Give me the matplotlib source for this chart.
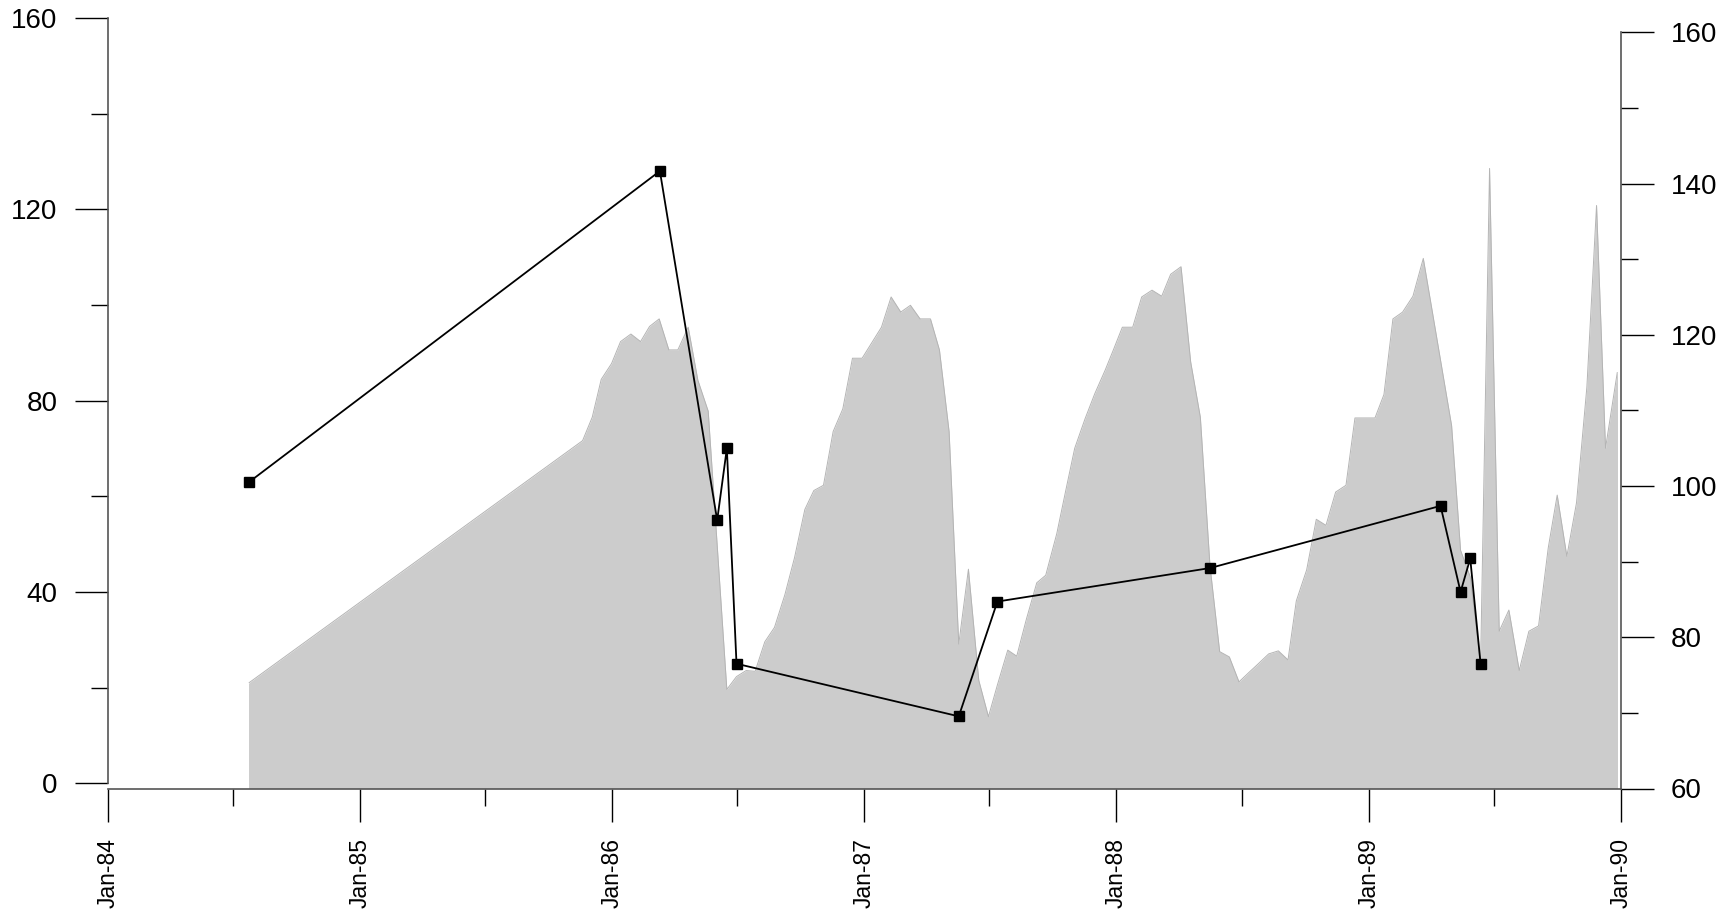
import matplotlib
matplotlib.use('Agg')
import matplotlib.pyplot as plt
import matplotlib.dates as mdates
import pandas as pd

plt.rcParams['font.family'] = ['Liberation Sans', 'DejaVu Sans']

# ---------------- data ----------------
# grey area, right axis
area_dates = ['1984-07-24', '1985-11-19', '1985-12-03', '1985-12-16', '1985-12-31',
              '1986-01-13', '1986-01-28', '1986-02-11', '1986-02-24', '1986-03-10',
              '1986-03-24', '1986-04-06', '1986-04-21', '1986-05-05', '1986-05-20',
              '1986-06-16', '1986-06-30', '1986-07-14', '1986-07-27', '1986-08-10',
              '1986-08-24', '1986-09-08', '1986-09-22', '1986-10-07', '1986-10-20',
              '1986-11-03', '1986-11-17', '1986-12-01', '1986-12-15', '1986-12-29',
              '1987-01-26', '1987-02-09', '1987-02-23', '1987-03-09', '1987-03-23',
              '1987-04-07', '1987-04-20', '1987-05-04', '1987-05-18', '1987-06-01',
              '1987-06-16', '1987-06-30', '1987-07-13', '1987-07-28', '1987-08-10',
              '1987-08-24', '1987-09-08', '1987-09-21', '1987-10-07', '1987-10-20',
              '1987-11-02', '1987-11-17', '1987-12-01', '1987-12-16', '1987-12-28',
              '1988-01-10', '1988-01-25', '1988-02-07', '1988-02-22', '1988-03-07',
              '1988-03-20', '1988-04-04', '1988-04-18', '1988-05-02', '1988-05-16',
              '1988-05-30', '1988-06-13', '1988-06-27', '1988-07-12', '1988-07-25',
              '1988-08-09', '1988-08-23', '1988-09-06', '1988-09-18', '1988-10-03',
              '1988-10-17', '1988-10-31', '1988-11-14', '1988-11-29', '1988-12-12',
              '1988-12-27', '1989-01-10', '1989-01-23', '1989-02-05', '1989-02-19',
              '1989-03-06', '1989-03-21', '1989-05-01', '1989-05-14', '1989-05-28',
              '1989-06-12', '1989-06-25', '1989-07-09', '1989-07-23', '1989-08-07',
              '1989-08-21', '1989-09-04', '1989-09-18', '1989-10-01', '1989-10-15',
              '1989-10-29', '1989-11-13', '1989-11-27', '1989-12-10', '1989-12-27']
area_values = [74.0, 106.0, 109.1, 114.1, 116.2,
               119.1, 120.1, 119.1, 121.1, 122.1,
               118.0, 118.0, 121.0, 114.0, 109.9,
               73.1, 74.8, 75.6, 75.5, 79.4,
               81.3, 85.6, 90.5, 96.9, 99.4,
               100.1, 107.2, 110.2, 116.9, 116.9,
               121.0, 125.0, 123.0, 123.9, 122.1,
               122.1, 118.0, 107.2, 79.1, 89.0,
               74.3, 69.5, 73.7, 78.3, 77.5,
               82.4, 87.2, 88.2, 93.7, 99.4,
               105.0, 108.9, 112.2, 115.3, 118.0,
               121.0, 121.0, 125.0, 125.9, 125.1,
               128.0, 129.0, 116.4, 109.1, 89.4,
               78.1, 77.4, 74.1, 75.4, 76.5,
               77.8, 78.2, 77.0, 84.8, 88.9,
               95.6, 94.8, 99.2, 100.1, 109.0,
               109.0, 109.0, 112.1, 122.1, 123.0,
               125.1, 130.1, 108.0, 91.5, 88.0,
               76.5, 142.0, 80.8, 83.6, 75.6,
               80.8, 81.5, 91.8, 98.8, 90.7,
               97.8, 113.1, 137.1, 105.0, 115.0]

# black line with squares, left axis
line_dates = ['1984-07-24', '1986-03-11', '1986-06-02', '1986-06-16', '1986-06-30',
              '1987-05-18', '1987-07-13', '1988-05-16', '1989-04-15', '1989-05-14',
              '1989-05-28', '1989-06-12']
line_values = [63, 128, 55, 70, 25, 14, 38, 45, 58, 40, 47, 25]

area_x = pd.to_datetime(area_dates)
line_x = pd.to_datetime(line_dates)
x_lo, x_hi = pd.Timestamp('1984-01-01'), pd.Timestamp('1990-01-01')

# ---------------- layout (pixels of the 1736x914 picture) ----------------
W, H = 1736, 914
fig = plt.figure(figsize=(W / 100, H / 100), dpi=100)
ax_r = fig.add_axes([107.7 / W, 1 - 788.5 / H, 1513 / W, (788.5 - 32.3) / H])
ax_l = fig.add_axes([107.7 / W, 1 - 783.3 / H, 1513 / W, (783.3 - 18) / H])
ax_l.patch.set_visible(False)

spine_col = '#555555'
maj_len, min_len = 23.8, 12.2

# right axis + dates
ax_r.fill_between(area_x, 60, area_values, color='#cccccc', lw=0)
ax_r.plot(area_x, area_values, color='#b4b4b4', lw=0.7)
ax_r.vlines([area_x[0], area_x[-1]], 60, [area_values[0], area_values[-1]],
            color='#cccccc', lw=0.7)
ax_r.set_xlim(x_lo, x_hi)
ax_r.set_ylim(60, 160)
for s in ['left', 'top']:
    ax_r.spines[s].set_visible(False)
for s in ['right', 'bottom']:
    ax_r.spines[s].set_color(spine_col)
    ax_r.spines[s].set_linewidth(1.2)
ax_r.yaxis.tick_right()
ax_r.set_yticks(range(60, 161, 20))
ax_r.set_yticks(range(70, 160, 20), minor=True)
ax_r.xaxis.set_major_locator(mdates.YearLocator())
ax_r.xaxis.set_minor_locator(mdates.MonthLocator(bymonth=7))
ax_r.xaxis.set_major_formatter(mdates.DateFormatter('%b-%y'))
ax_r.tick_params(axis='y', which='major', length=maj_len, width=1, colors='black',
                 pad=12.5, labelsize=20)
ax_r.tick_params(axis='y', which='minor', length=min_len, width=1, colors='black')
ax_r.tick_params(axis='x', which='major', length=maj_len, width=1, colors='black',
                 pad=12, labelsize=16.5, labelrotation=90)
ax_r.tick_params(axis='x', which='minor', length=min_len, width=1, colors='black')

# left axis + line
ax_l.plot(line_x, line_values, color='black', lw=1.3, marker='s', markersize=6.5,
          markerfacecolor='black', markeredgecolor='black')
ax_l.set_xlim(x_lo, x_hi)
ax_l.set_ylim(0, 160)
for s in ['right', 'top', 'bottom']:
    ax_l.spines[s].set_visible(False)
ax_l.spines['left'].set_color(spine_col)
ax_l.spines['left'].set_linewidth(1.2)
ax_l.set_xticks([])
ax_l.set_yticks([0, 40, 80, 120, 160])
ax_l.set_yticks([20, 60, 100, 140], minor=True)
ax_l.tick_params(axis='y', which='major', length=maj_len, width=1, colors='black',
                 pad=12.5, labelsize=20)
ax_l.tick_params(axis='y', which='minor', length=min_len, width=1, colors='black')

fig.savefig('out.png', dpi=100)
